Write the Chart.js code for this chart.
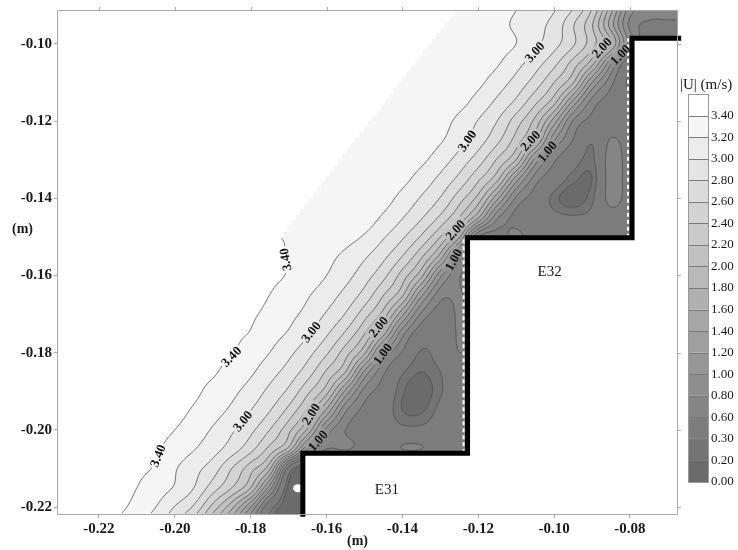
<!DOCTYPE html>
<html>
<head>
<meta charset="utf-8">
<script src="https://cdn.jsdelivr.net/npm/chart.js@4.4.1/dist/chart.umd.min.js"></script>
<style>
  html, body { margin: 0; padding: 0; background: #fff; }
  #wrap { position: relative; width: 738px; height: 550px; }
</style>
</head>
<body>
<div id="wrap"><canvas id="c" width="738" height="550"></canvas></div>
<script>
// Velocity magnitude |U| (m/s) sampled on a regular grid over the stepped chute section.
const gridX = [-0.230,-0.225,-0.220,-0.215,-0.210,-0.205,-0.200,-0.195,-0.190,-0.185,-0.180,-0.175,-0.170,-0.165,-0.160,-0.155,-0.150,
               -0.145,-0.140,-0.135,-0.130,-0.125,-0.120,-0.115,-0.110,-0.105,-0.100,-0.095,-0.090,-0.085,-0.080,-0.075,-0.070,-0.065];
const gridY = [-0.090,-0.095,-0.100,-0.105,-0.110,-0.115,-0.120,-0.125,-0.130,-0.135,-0.140,-0.145,-0.150,-0.155,
               -0.160,-0.165,-0.170,-0.175,-0.180,-0.185,-0.190,-0.195,-0.200,-0.205,-0.210,-0.215,-0.220,-0.225];
const speed = [
 [3.3,3.3,3.3,3.3,3.3,3.3,3.3,3.3,3.3,3.3,3.3,3.3,3.3,3.3,3.3,3.3,3.3, 3.3,3.3,3.3,3.3,3.3,3.3,3.27,3.21,3.12,3.03,2.83,2.43,1.72,0.93,0.78,0.75,0.75],
 [3.3,3.3,3.3,3.3,3.3,3.3,3.3,3.3,3.3,3.3,3.3,3.3,3.3,3.3,3.3,3.3,3.3, 3.3,3.3,3.3,3.3,3.3,3.3,3.25,3.17,3.07,2.93,2.62,2.22,1.5,0.75,0.55,0.55,0.55],
 [3.3,3.3,3.3,3.3,3.3,3.3,3.3,3.3,3.3,3.3,3.3,3.3,3.3,3.3,3.3,3.3,3.3, 3.3,3.3,3.3,3.3,3.3,3.3,3.27,3.2,3.05,2.87,2.63,2.28,1.8,0.9,0.4,0.4,0.4],
 [3.3,3.3,3.3,3.3,3.3,3.3,3.3,3.3,3.3,3.3,3.3,3.3,3.3,3.3,3.3,3.3,3.3, 3.3,3.3,3.3,3.3,3.3,3.3,3.22,3.07,2.89,2.66,2.32,1.88,1.04,0.4,0.4,0.4,0.4],
 [3.3,3.3,3.3,3.3,3.3,3.3,3.3,3.3,3.3,3.3,3.3,3.3,3.3,3.3,3.3,3.3,3.3, 3.3,3.3,3.3,3.3,3.3,3.24,3.1,2.93,2.71,2.4,2.02,1.2,0.66,0.25,0.3,0.3,0.3],
 [3.3,3.3,3.3,3.3,3.3,3.3,3.3,3.3,3.3,3.3,3.3,3.3,3.3,3.3,3.3,3.3,3.3, 3.3,3.3,3.3,3.3,3.26,3.13,2.96,2.76,2.45,2.08,1.35,0.72,0.5,0.4,0.4,0.4,0.4],
 [3.3,3.3,3.3,3.3,3.3,3.3,3.3,3.3,3.3,3.3,3.3,3.3,3.3,3.3,3.3,3.3,3.3, 3.3,3.3,3.3,3.27,3.15,2.99,2.8,2.5,2.14,1.5,0.78,0.53,0.45,0.4,0.4,0.4,0.4],
 [3.3,3.3,3.3,3.3,3.3,3.3,3.3,3.3,3.3,3.3,3.3,3.3,3.3,3.3,3.3,3.3,3.3, 3.3,3.3,3.3,3.22,3.07,2.89,2.65,2.31,1.86,1.02,0.59,0.32,0.62,0.5,0.5,0.5,0.5],
 [3.3,3.3,3.3,3.3,3.3,3.3,3.3,3.3,3.3,3.3,3.3,3.3,3.3,3.3,3.3,3.3,3.3, 3.3,3.3,3.24,3.1,2.92,2.7,2.38,2.0,1.14,0.64,0.4,0.27,0.7,0.5,0.5,0.5,0.5],
 [3.3,3.3,3.3,3.3,3.3,3.3,3.3,3.3,3.3,3.3,3.3,3.3,3.3,3.3,3.3,3.3,3.3, 3.3,3.25,3.12,2.95,2.74,2.44,2.06,1.3,0.7,0.45,0.24,0.2,0.7,0.5,0.5,0.5,0.5],
 [3.3,3.3,3.3,3.3,3.3,3.3,3.3,3.3,3.3,3.3,3.3,3.3,3.3,3.3,3.3,3.3,3.3, 3.27,3.14,2.98,2.79,2.49,2.12,1.45,0.76,0.5,0.25,0.12,0.27,0.68,0.5,0.5,0.5,0.5],
 [3.3,3.3,3.3,3.3,3.3,3.3,3.3,3.3,3.3,3.3,3.3,3.3,3.3,3.3,3.3,3.3,3.29, 3.17,3.01,2.82,2.56,2.19,1.62,0.84,0.53,0.45,0.35,0.32,0.35,0.5,0.45,0.45,0.45,0.45],
 [3.5,3.5,3.5,3.5,3.5,3.5,3.5,3.5,3.5,3.5,3.45,3.42,3.38,3.33,3.29,3.26,3.18, 3.02,2.83,2.57,2.2,1.64,0.6,0.5,0.65,0.45,0.4,0.4,0.42,0.45,0.4,0.4,0.4,0.4],
 [3.5,3.5,3.5,3.5,3.5,3.5,3.5,3.5,3.5,3.5,3.48,3.43,3.39,3.32,3.25,3.16,3.03, 2.85,2.6,2.24,1.72,0.85,0.5,0.5,0.5,0.5,0.5,0.5,0.5,0.5,0.5,0.5,0.5,0.5],
 [3.5,3.5,3.5,3.5,3.5,3.5,3.5,3.5,3.5,3.5,3.46,3.42,3.39,3.3,3.2,3.07,2.89, 2.66,2.31,1.86,1.06,0.62,0.5,0.5,0.5,0.5,0.5,0.5,0.5,0.5,0.5,0.5,0.5,0.5],
 [3.5,3.5,3.5,3.5,3.5,3.5,3.5,3.5,3.5,3.47,3.44,3.4,3.34,3.22,3.1,2.94,2.73, 2.41,2.04,1.25,0.68,0.62,0.5,0.5,0.5,0.5,0.5,0.5,0.5,0.5,0.5,0.5,0.5,0.5],
 [3.5,3.5,3.5,3.5,3.5,3.5,3.5,3.5,3.48,3.45,3.42,3.36,3.26,3.14,2.98,2.79,2.49, 2.12,1.45,0.76,0.5,0.62,0.5,0.5,0.5,0.5,0.5,0.5,0.5,0.5,0.5,0.5,0.5,0.5],
 [3.5,3.5,3.5,3.5,3.5,3.5,3.5,3.48,3.46,3.43,3.39,3.28,3.18,3.02,2.83,2.57,2.21, 1.67,0.87,0.45,0.42,0.62,0.5,0.5,0.5,0.5,0.5,0.5,0.5,0.5,0.5,0.5,0.5,0.5],
 [3.5,3.5,3.5,3.5,3.5,3.5,3.48,3.46,3.44,3.41,3.31,3.2,3.05,2.87,2.63,2.29,1.84, 1.0,0.58,0.28,0.4,0.6,0.5,0.5,0.5,0.5,0.5,0.5,0.5,0.5,0.5,0.5,0.5,0.5],
 [3.5,3.5,3.5,3.5,3.5,3.48,3.47,3.44,3.42,3.33,3.23,3.08,2.92,2.7,2.37,2.0,1.16, 0.64,0.32,0.2,0.3,0.5,0.45,0.45,0.45,0.45,0.45,0.45,0.45,0.45,0.45,0.45,0.45,0.45],
 [3.5,3.5,3.5,3.5,3.48,3.47,3.45,3.43,3.35,3.25,3.12,2.95,2.76,2.45,2.08,1.35,0.73, 0.5,0.22,0.12,0.28,0.45,0.45,0.45,0.45,0.45,0.45,0.45,0.45,0.45,0.45,0.45,0.45,0.45],
 [3.5,3.5,3.5,3.48,3.47,3.46,3.45,3.38,3.28,3.16,3.0,2.81,2.54,2.16,1.55,0.83,0.54, 0.42,0.2,0.18,0.35,0.45,0.45,0.45,0.45,0.45,0.45,0.45,0.45,0.45,0.45,0.45,0.45,0.45],
 [3.5,3.5,3.49,3.48,3.46,3.45,3.4,3.3,3.18,3.03,2.85,2.6,2.26,1.76,0.94,0.6,0.5, 0.42,0.35,0.35,0.4,0.45,0.45,0.45,0.45,0.45,0.45,0.45,0.45,0.45,0.45,0.45,0.45,0.45],
 [3.5,3.49,3.48,3.47,3.45,3.42,3.32,3.21,3.08,2.9,2.66,2.33,1.92,1.0,0.6,0.62,0.5, 0.45,0.6,0.6,0.45,0.42,0.42,0.42,0.42,0.42,0.42,0.42,0.42,0.42,0.42,0.42,0.42,0.42],
 [3.5,3.49,3.48,3.46,3.43,3.38,3.22,3.07,2.9,2.6,2.28,1.85,0.5,0,0,0,0, 0,0,0,0,0,0,0,0,0,0,0,0,0,0,0,0,0],
 [3.5,3.48,3.47,3.45,3.4,3.3,3.18,3.0,2.7,2.4,2.0,1.1,0.15,0,0,0,0, 0,0,0,0,0,0,0,0,0,0,0,0,0,0,0,0,0],
 [3.5,3.48,3.46,3.43,3.35,3.2,2.99,2.77,2.33,1.86,1.2,0.4,0.1,0,0,0,0, 0,0,0,0,0,0,0,0,0,0,0,0,0,0,0,0,0],
 [3.5,3.47,3.44,3.38,3.25,3.05,2.8,2.45,1.95,1.4,0.7,0.2,0.05,0,0,0,0, 0,0,0,0,0,0,0,0,0,0,0,0,0,0,0,0,0]
];

// Contour levels (also the colour-bar ticks)
const levels = [0.00,0.20,0.30,0.60,0.80,1.00,1.20,1.40,1.60,1.80,2.00,2.20,2.40,2.60,2.80,3.00,3.20,3.40];

// Axis ticks
const xTicks = [-0.22,-0.20,-0.18,-0.16,-0.14,-0.12,-0.10,-0.08];
const yTicks = [-0.22,-0.20,-0.18,-0.16,-0.14,-0.12,-0.10];

// Step profile (riser/tread corners)
const stepX = [-0.16625,-0.16625,-0.12282,-0.12282,-0.07945,-0.07945,-0.0665];
const stepY = [-0.2225,-0.20608,-0.20608,-0.15026,-0.15026,-0.09854,-0.09854];
const stepNames = ['E31','E32'];
const stepNameX = [-0.1441,-0.1012];
const stepNameY = [-0.2157,-0.1592];

// Free-surface edge of the measured region
const surfaceX = [-0.1255,-0.1704,-0.2290];
const surfaceY = [-0.0915,-0.1485,-0.2240];

// Unmeasured spot near the lower riser
const holeX = [-0.1675];
const holeY = [-0.2151];

// Inline contour labels: level and the heights (m) where each label sits
const labelLevels = [3.40, 3.00, 2.00, 1.00];
const labelHeights = [
  [-0.1559,-0.1810,-0.2067],
  [-0.1021,-0.1251,-0.1746,-0.1977],
  [-0.1010,-0.1251,-0.1482,-0.1733,-0.1959],
  [-0.1028,-0.1279,-0.1559,-0.1803,-0.2028]
];

const SERIF = '"Liberation Serif", "Times New Roman", serif';

// Catmull-Rom weights for smooth surface reconstruction between grid nodes
function crWeights(t) {
  const t2 = t * t, t3 = t2 * t;
  return [(-t3 + 2 * t2 - t) / 2, (3 * t3 - 5 * t2 + 2) / 2, (-3 * t3 + 4 * t2 + t) / 2, (t3 - t2) / 2];
}

function speedAt(x, y) {
  const nx = gridX.length, ny = gridY.length;
  let fx = (x - gridX[0]) / (gridX[1] - gridX[0]);
  let fy = (y - gridY[0]) / (gridY[1] - gridY[0]);
  fx = Math.max(0, Math.min(nx - 1, fx));
  fy = Math.max(0, Math.min(ny - 1, fy));
  const i = Math.min(Math.floor(fx), nx - 2), j = Math.min(Math.floor(fy), ny - 2);
  const wx = crWeights(fx - i), wy = crWeights(fy - j);
  let v = 0;
  for (let m = 0; m < 4; m++) {
    const r = speed[Math.max(0, Math.min(ny - 1, j - 1 + m))];
    let row = 0;
    for (let n = 0; n < 4; n++) row += wx[n] * r[Math.max(0, Math.min(nx - 1, i - 1 + n))];
    v += wy[m] * row;
  }
  return v;
}

function bandIndex(v) {
  let b = 0;
  for (let k = 1; k < levels.length; k++) if (v >= levels[k]) b = k;
  return b;
}
function bandGray(b) {
  return b === levels.length - 1 ? 255 : Math.round(107 + b * 8.625);
}

const contourPlugin = {
  id: 'contourField',
  beforeDatasetsDraw(chart) {
    const { ctx, chartArea: a, scales } = chart;
    const xs = scales.x, ys = scales.y;
    const L = Math.round(a.left), T = Math.round(a.top);
    const W = Math.round(a.right) - L, H = Math.round(a.bottom) - T;
    const fAtPx = (px, py) => speedAt(xs.getValueForPixel(px), ys.getValueForPixel(py));

    // filled bands
    const off = document.createElement('canvas');
    off.width = W; off.height = H;
    const octx = off.getContext('2d');
    const img = octx.createImageData(W, H);
    const colX = new Float64Array(W);
    for (let i = 0; i < W; i++) colX[i] = xs.getValueForPixel(L + i + 0.5);
    for (let j = 0; j < H; j++) {
      const yv = ys.getValueForPixel(T + j + 0.5);
      for (let i = 0; i < W; i++) {
        const g = bandGray(bandIndex(speedAt(colX[i], yv)));
        const p = (j * W + i) * 4;
        img.data[p] = g; img.data[p + 1] = g; img.data[p + 2] = g; img.data[p + 3] = 255;
      }
    }
    octx.putImageData(img, 0, 0);
    ctx.drawImage(off, L, T);

    // label placement: where each labelled level crosses the given height
    ctx.font = 'bold 13px ' + SERIF;
    const labels = [];
    labelLevels.forEach((lev, li) => {
      labelHeights[li].forEach(yv => {
        const py = ys.getPixelForValue(yv);
        let prev = fAtPx(L, py);
        for (let px = L + 1; px < L + W; px++) {
          const cur = fAtPx(px, py);
          if (prev >= lev && cur < lev) {
            const x = px - 1 + (prev - lev) / (prev - cur);
            const gx = (fAtPx(x + 3, py) - fAtPx(x - 3, py)) / 6;
            const gy = (fAtPx(x, py + 3) - fAtPx(x, py - 3)) / 6;
            let tx = -gy, ty = gx;
            // text runs up the slope of the line
            if (ty > 0) { tx = -tx; ty = -ty; }
            const text = lev.toFixed(2);
            labels.push({ x, y: py, ang: Math.atan2(ty, tx), text, w: ctx.measureText(text).width });
            break;
          }
          prev = cur;
        }
      });
    });

    // contour lines (marching squares on a fine pixel lattice)
    const st = 2;
    const nx = Math.floor(W / st) + 1, ny = Math.floor(H / st) + 1;
    const vals = new Float32Array(nx * ny);
    for (let j = 0; j < ny; j++) {
      const yv = ys.getValueForPixel(T + j * st);
      for (let i = 0; i < nx; i++) vals[j * nx + i] = speedAt(xs.getValueForPixel(L + i * st), yv);
    }
    ctx.save();
    ctx.beginPath();
    ctx.rect(L - 2, T - 2, W + 4, H + 4);
    labels.forEach(lb => {
      const c = Math.cos(lb.ang), s = Math.sin(lb.ang), hw = lb.w / 2 + 2, hh = 6.5;
      const pts = [[-hw, -hh], [hw, -hh], [hw, hh], [-hw, hh]].map(([u, v]) => [lb.x + u * c - v * s, lb.y + u * s + v * c]);
      ctx.moveTo(pts[0][0], pts[0][1]);
      for (let k = 1; k < 4; k++) ctx.lineTo(pts[k][0], pts[k][1]);
      ctx.closePath();
    });
    ctx.clip('evenodd');
    ctx.beginPath();
    for (let li = 1; li < levels.length; li++) {
      const lev = levels[li];
      for (let j = 0; j < ny - 1; j++) {
        for (let i = 0; i < nx - 1; i++) {
          const a0 = vals[j * nx + i], b0 = vals[j * nx + i + 1];
          const c0 = vals[(j + 1) * nx + i + 1], d0 = vals[(j + 1) * nx + i];
          const sa = a0 >= lev, sb = b0 >= lev, sc = c0 >= lev, sd = d0 >= lev;
          if (sa === sb && sb === sc && sc === sd) continue;
          const x0 = L + i * st, y0 = T + j * st;
          const p = [];
          if (sa !== sb) p.push([x0 + st * (lev - a0) / (b0 - a0), y0]);
          if (sb !== sc) p.push([x0 + st, y0 + st * (lev - b0) / (c0 - b0)]);
          if (sc !== sd) p.push([x0 + st * (lev - d0) / (c0 - d0), y0 + st]);
          if (sd !== sa) p.push([x0, y0 + st * (lev - a0) / (d0 - a0)]);
          for (let k = 0; k + 1 < p.length; k += 2) {
            ctx.moveTo(p[k][0], p[k][1]);
            ctx.lineTo(p[k + 1][0], p[k + 1][1]);
          }
        }
      }
    }
    ctx.strokeStyle = 'rgba(80,80,80,0.85)';
    ctx.lineWidth = 0.9;
    ctx.stroke();
    ctx.restore();

    // blank out regions without data
    ctx.save();
    ctx.beginPath();
    ctx.rect(L, T, W, H);
    ctx.clip();
    ctx.fillStyle = '#ffffff';
    const A = { x: xs.getPixelForValue(surfaceX[0]), y: ys.getPixelForValue(surfaceY[0]) };
    const B = { x: xs.getPixelForValue(surfaceX[1]), y: ys.getPixelForValue(surfaceY[1]) };
    const C = { x: xs.getPixelForValue(surfaceX[2]), y: ys.getPixelForValue(surfaceY[2]) };
    ctx.beginPath();
    ctx.moveTo(L - 2, T - 2);
    ctx.lineTo(A.x, T - 2);
    ctx.lineTo(A.x, A.y);
    const teeth = 40;
    for (let k = 0; k < teeth; k++) {
      const p = { x: A.x + (B.x - A.x) * k / teeth, y: A.y + (B.y - A.y) * k / teeth };
      const q = { x: A.x + (B.x - A.x) * (k + 1) / teeth, y: A.y + (B.y - A.y) * (k + 1) / teeth };
      ctx.lineTo(p.x, p.y);
      ctx.lineTo(q.x, p.y);
    }
    ctx.lineTo(B.x, B.y);
    ctx.lineTo(C.x, C.y);
    ctx.lineTo(L - 2, C.y);
    ctx.closePath();
    ctx.fill();

    // solid steps
    ctx.beginPath();
    stepX.forEach((sx, k) => {
      const px = xs.getPixelForValue(sx), py = ys.getPixelForValue(stepY[k]);
      if (k === 0) ctx.moveTo(px, py); else ctx.lineTo(px, py);
    });
    ctx.lineTo(L + W + 10, ys.getPixelForValue(stepY[stepY.length - 1]));
    ctx.lineTo(L + W + 10, T + H + 10);
    ctx.lineTo(xs.getPixelForValue(stepX[0]), T + H + 10);
    ctx.closePath();
    ctx.fill();

    holeX.forEach((hx, k) => {
      ctx.beginPath();
      ctx.ellipse(xs.getPixelForValue(hx), ys.getPixelForValue(holeY[k]), 5, 4, 0, 0, Math.PI * 2);
      ctx.fill();
    });

    // dashed edges of the cavity sections along the risers
    ctx.strokeStyle = '#ffffff';
    ctx.lineWidth = 2;
    ctx.setLineDash([4, 3]);
    [[2, 3], [4, 5]].forEach(([k0, k1]) => {
      const px = xs.getPixelForValue(stepX[k0]) - 4;
      ctx.beginPath();
      ctx.moveTo(px, ys.getPixelForValue(stepY[k0]));
      ctx.lineTo(px, ys.getPixelForValue(stepY[k1]));
      ctx.stroke();
    });
    ctx.setLineDash([]);
    ctx.restore();

    // step outline
    ctx.save();
    ctx.beginPath();
    stepX.forEach((sx, k) => {
      const px = xs.getPixelForValue(sx), py = ys.getPixelForValue(stepY[k]);
      if (k === 0) ctx.moveTo(px, py); else ctx.lineTo(px, py);
    });
    ctx.strokeStyle = '#000';
    ctx.lineWidth = 5;
    ctx.lineJoin = 'miter';
    ctx.stroke();
    ctx.restore();

    // contour labels
    ctx.save();
    ctx.fillStyle = '#111';
    ctx.font = 'bold 13px ' + SERIF;
    ctx.textAlign = 'center';
    ctx.textBaseline = 'middle';
    labels.forEach(lb => {
      ctx.save();
      ctx.translate(lb.x, lb.y);
      ctx.rotate(lb.ang);
      ctx.fillText(lb.text, 0, 1);
      ctx.restore();
    });
    ctx.font = '15px ' + SERIF;
    ctx.fillStyle = '#1a1a1a';
    stepNames.forEach((n, k) => {
      ctx.fillText(n, xs.getPixelForValue(stepNameX[k]), ys.getPixelForValue(stepNameY[k]));
    });
    ctx.restore();
  },
  afterDraw(chart) {
    const { ctx, chartArea: a, scales } = chart;
    const xs = scales.x, ys = scales.y;
    ctx.save();
    ctx.strokeStyle = '#a8a8a8';
    ctx.lineWidth = 1;
    ctx.strokeRect(Math.round(a.left) - 0.5, Math.round(a.top) - 0.5, Math.round(a.right - a.left) + 1, Math.round(a.bottom - a.top) + 1);
    ctx.beginPath();
    xTicks.forEach(v => {
      const px = Math.round(xs.getPixelForValue(v)) + 0.5;
      ctx.moveTo(px, a.top); ctx.lineTo(px, a.top - 4);
    });
    yTicks.forEach(v => {
      const py = Math.round(ys.getPixelForValue(v)) + 0.5;
      ctx.moveTo(a.right, py); ctx.lineTo(a.right + 4, py);
    });
    ctx.stroke();

    // axis titles
    ctx.fillStyle = '#1a1a1a';
    ctx.font = 'bold 14px ' + SERIF;
    ctx.textBaseline = 'middle';
    ctx.textAlign = 'left';
    ctx.fillText('(m)', 12, 229);
    ctx.fillText('(m)', 347, 541);

    // colour bar
    const cbL = 688, cbR = 708, cbT = 94, cbB = 482;
    const nb = levels.length;
    const h = (cbB - cbT) / nb;
    for (let k = 0; k < nb; k++) {
      const band = nb - 1 - k;
      const g = bandGray(band);
      ctx.fillStyle = `rgb(${g},${g},${g})`;
      ctx.fillRect(cbL, cbT + k * h, cbR - cbL, h);
    }
    ctx.strokeStyle = '#7a7a7a';
    ctx.lineWidth = 1;
    ctx.beginPath();
    for (let k = 1; k < nb; k++) {
      const y = Math.round(cbT + k * h) + 0.5;
      ctx.moveTo(cbL, y); ctx.lineTo(cbR, y);
    }
    ctx.stroke();
    ctx.strokeStyle = '#9a9a9a';
    ctx.strokeRect(cbL + 0.5, cbT + 0.5, cbR - cbL, cbB - cbT);
    ctx.fillStyle = '#1a1a1a';
    ctx.font = '13px ' + SERIF;
    ctx.textAlign = 'left';
    for (let k = nb - 1; k >= 0; k--) {
      const y = cbT + (nb - k) * h;
      ctx.fillText(levels[k].toFixed(2), 711, y);
    }
    ctx.font = '15px ' + SERIF;
    ctx.fillText('|U| (m/s)', 680, 85);
    ctx.restore();
  }
};

const tickFont = { family: SERIF, size: 15, weight: 'bold' };

new Chart(document.getElementById('c'), {
  type: 'scatter',
  data: { datasets: [{ data: [], pointRadius: 0 }] },
  options: {
    responsive: false,
    animation: false,
    devicePixelRatio: 1,
    layout: { padding: { left: 0, right: 61, top: 6, bottom: 0 } },
    plugins: { legend: { display: false }, tooltip: { enabled: false } },
    scales: {
      x: {
        type: 'linear', min: -0.2308, max: -0.0676,
        afterBuildTicks: s => { s.ticks = xTicks.map(v => ({ value: v })); },
        afterFit: s => { s.height = 36; },
        grid: { display: true, drawOnChartArea: false, drawTicks: true, tickLength: 4, color: '#a8a8a8' },
        border: { display: true, color: '#a8a8a8' },
        ticks: { padding: 2, color: '#1a1a1a', font: tickFont, maxRotation: 0, autoSkip: false,
                 callback: v => Number(v).toFixed(2) }
      },
      y: {
        type: 'linear', min: -0.2218, max: -0.0915,
        afterBuildTicks: s => { s.ticks = yTicks.map(v => ({ value: v })); },
        afterFit: s => { s.width = 58; },
        grid: { display: true, drawOnChartArea: false, drawTicks: true, tickLength: 4, color: '#a8a8a8' },
        border: { display: true, color: '#a8a8a8' },
        ticks: { padding: 2, color: '#1a1a1a', font: tickFont, autoSkip: false,
                 callback: v => Number(v).toFixed(2) }
      }
    }
  },
  plugins: [contourPlugin]
});
</script>
</body>
</html>
